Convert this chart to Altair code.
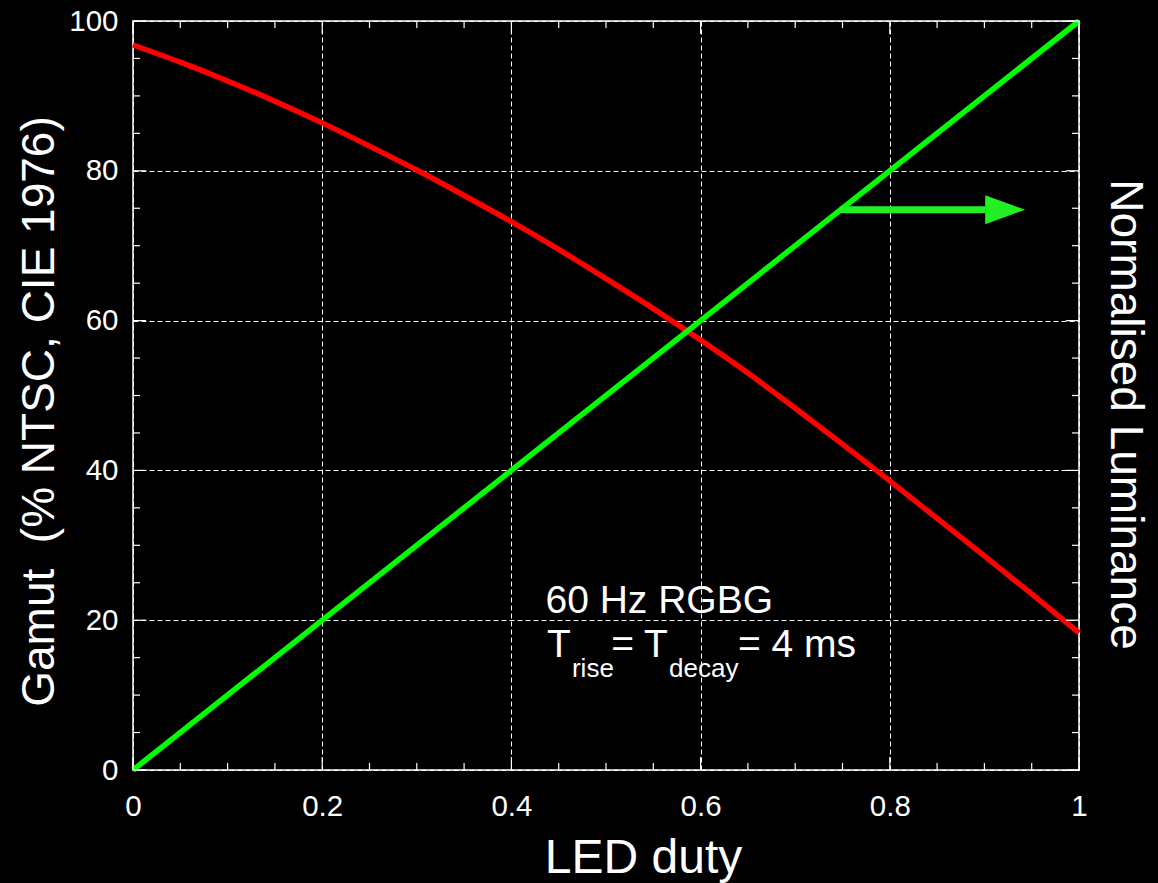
import altair as alt
import pandas as pd

# ---- data ----
duty = [0.0, 0.05, 0.1, 0.15, 0.2, 0.25, 0.3, 0.35, 0.4, 0.45, 0.5,
        0.55, 0.6, 0.65, 0.7, 0.75, 0.8, 0.85, 0.9, 0.95, 1.0]
gamut = [96.8, 94.5, 92.0, 89.3, 86.4, 83.3, 80.1, 76.7, 73.2, 69.5, 65.6,
         61.6, 57.4, 53.0, 48.3, 43.5, 38.6, 33.6, 28.6, 23.5, 18.3]
lum_duty = [0.0, 1.0]
luminance = [0.0, 100.0]

arrow_x = [0.747, 0.901]
arrow_y = [74.8, 74.8]
arrow_head_x = [0.922]
arrow_head_y = [74.8]

x_major = [0, 0.2, 0.4, 0.6, 0.8, 1]
x_minor = [0.05, 0.1, 0.15, 0.25, 0.3, 0.35, 0.45, 0.5, 0.55,
           0.65, 0.7, 0.75, 0.85, 0.9, 0.95]
y_major = [0, 20, 40, 60, 80, 100]
y_minor = [5, 10, 15, 25, 30, 35, 45, 50, 55, 65, 70, 75, 85, 90, 95]

note_main_text = ["60 Hz RGBG", "T", "= T", "= 4 ms"]
note_main_x = [0.436, 0.4376, 0.5055, 0.6395]
note_main_y = [20.96, 15.09, 15.09, 15.09]
note_sub_text = ["rise", "decay"]
note_sub_x = [0.464, 0.5666]
note_sub_y = [12.4, 12.4]

W, H = 946, 749
FONT = "Liberation Sans"

xscale = alt.Scale(domain=[0, 1], nice=False, zero=False)
yscale = alt.Scale(domain=[0, 100], nice=False, zero=False)

x_axis = alt.Axis(
    orient="bottom", values=x_major, format=".1~f", grid=True, gridColor="white",
    gridDash=[5, 3], gridWidth=1, ticks=False, tickSize=0, domain=False,
    labelFont=FONT, labelFontSize=29.5, labelColor="white", labelPadding=22,
    labelFlush=False,
    title="LED duty", titleFont=FONT, titleFontSize=48, titleFontWeight="normal",
    titleColor="white", titleX=510, titleY=102, titleAlign="center",
    titleBaseline="alphabetic",
)
y_axis = alt.Axis(
    orient="left", values=y_major, format="d", grid=True, gridColor="white",
    gridDash=[5, 3], gridWidth=1, ticks=False, tickSize=0, domain=False,
    labelFont=FONT, labelFontSize=29.5, labelColor="white", labelPadding=15,
    labelFlush=False,
    title="Gamut \u00a0(% NTSC, CIE 1976)", titleFont=FONT, titleFontSize=46,
    titleFontWeight="normal", titleColor="white", titleAngle=270,
    titleX=-80, titleY=390, titleAlign="center", titleBaseline="alphabetic",
)
y_axis_right = alt.Axis(
    orient="right", values=y_major, labels=False, grid=False, ticks=False,
    tickSize=0, domain=False,
    title="Normalised Luminance", titleFont=FONT, titleFontSize=46,
    titleFontWeight="normal", titleColor="white", titleAngle=90,
    titleX=31, titleY=393, titleAlign="center", titleBaseline="alphabetic",
)

df_g = pd.DataFrame({"duty": duty, "gamut": gamut})
df_l = pd.DataFrame({"duty": lum_duty, "lum": luminance})

red = alt.Chart(df_g).mark_line(
    color="#FF0000", strokeWidth=5.5, interpolate="monotone"
).encode(
    x=alt.X("duty:Q", scale=xscale, axis=x_axis),
    y=alt.Y("gamut:Q", scale=yscale, axis=y_axis),
)
green = alt.Chart(df_l).mark_line(color="#00FF00", strokeWidth=5.5).encode(
    x=alt.X("duty:Q", scale=xscale, axis=x_axis),
    y=alt.Y("lum:Q", scale=yscale, axis=y_axis_right),
)

df_arrow = pd.DataFrame({"x": arrow_x, "y": arrow_y})
arrow = alt.Chart(df_arrow).mark_line(color="#22F022", strokeWidth=7, strokeCap="butt").encode(
    x=alt.X("x:Q", scale=xscale, axis=x_axis),
    y=alt.Y("y:Q", scale=yscale, axis=None),
)
df_head = pd.DataFrame({"x": arrow_head_x, "y": arrow_head_y})
head = alt.Chart(df_head).mark_point(
    shape="M-1,-0.725L1,0L-1,0.725Z", size=1600, filled=True,
    color="#22F022", opacity=1, strokeWidth=0,
).encode(
    x=alt.X("x:Q", scale=xscale, axis=x_axis),
    y=alt.Y("y:Q", scale=yscale, axis=None),
)


def xticks(values, y0, y1):
    return alt.Chart(pd.DataFrame({"v": values})).mark_rule(
        color="white", strokeWidth=1.2).encode(
        x=alt.X("v:Q", scale=xscale, axis=x_axis),
        y=alt.value(y0), y2=alt.value(y1),
    )


def yticks(values, x0, x1):
    return alt.Chart(pd.DataFrame({"v": values})).mark_rule(
        color="white", strokeWidth=1.2).encode(
        y=alt.Y("v:Q", scale=yscale, axis=None),
        x=alt.value(x0), x2=alt.value(x1),
    )


ticks = [
    xticks(x_minor, H, H - 7), xticks(x_minor, 0, 7),
    xticks(x_major, H, H - 13), xticks(x_major, 0, 13),
    yticks(y_minor, 0, 7), yticks(y_minor, W, W - 7),
    yticks(y_major, 0, 13), yticks(y_major, W, W - 13),
]

df_nm = pd.DataFrame({"t": note_main_text, "x": note_main_x, "y": note_main_y})
note_main = alt.Chart(df_nm).mark_text(
    align="left", baseline="alphabetic", font=FONT, fontSize=39, color="white"
).encode(
    x=alt.X("x:Q", scale=xscale, axis=x_axis),
    y=alt.Y("y:Q", scale=yscale, axis=None),
    text="t:N",
)
df_ns = pd.DataFrame({"t": note_sub_text, "x": note_sub_x, "y": note_sub_y})
note_sub = alt.Chart(df_ns).mark_text(
    align="left", baseline="alphabetic", font=FONT, fontSize=26, color="white"
).encode(
    x=alt.X("x:Q", scale=xscale, axis=x_axis),
    y=alt.Y("y:Q", scale=yscale, axis=None),
    text="t:N",
)

chart = alt.layer(
    red, green, *ticks, arrow, head, note_main, note_sub
).resolve_scale(y="independent").properties(
    width=W, height=H,
    autosize=alt.AutoSizeParams(type="none"),
    padding={"left": 133, "top": 21, "right": 79, "bottom": 113},
    background="black",
).configure_view(stroke="white", strokeWidth=1.5, fill="black")

chart.save("out.html", embed_options={"renderer": "svg", "actions": False})
